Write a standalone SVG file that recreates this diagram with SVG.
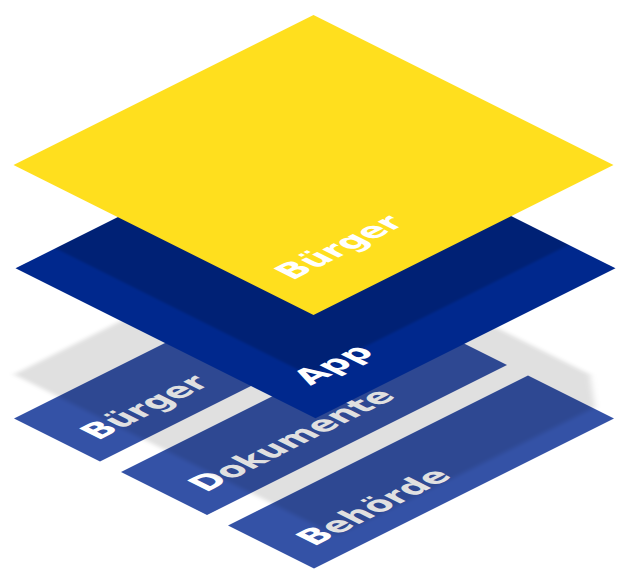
<svg xmlns="http://www.w3.org/2000/svg" width="631" height="585" viewBox="0 0 631 585">
<defs>
<style>
.lbl{font-family:"DejaVu Sans","Liberation Sans",sans-serif;font-weight:bold;font-size:29.5px;fill:#ffffff}
.strip{fill:#3452a6}
</style>
<filter id="soft" x="-20%" y="-20%" width="140%" height="140%"><feGaussianBlur stdDeviation="2.5"/></filter>
<filter id="soft2" x="-20%" y="-20%" width="140%" height="140%"><feGaussianBlur stdDeviation="1.5"/></filter>
<clipPath id="sqclip"><rect x="0" y="0" width="300" height="300"/></clipPath>
</defs>
<rect x="0" y="0" width="631" height="585" fill="#ffffff"/>

<g id="base-layer" transform="matrix(1,-0.5,1,0.5,14,418.5)">
  <g id="strip-buerger">
    <rect class="strip" x="0" y="0" width="300" height="86"/>
    <text class="lbl" x="20" y="64">Bürger</text>
  </g>
  <g id="strip-dokumente">
    <rect class="strip" x="0" y="107" width="300" height="86"/>
    <text class="lbl" x="22" y="170">Dokumente</text>
  </g>
  <g id="strip-behoerde">
    <rect class="strip" x="0" y="214" width="300" height="86"/>
    <text class="lbl" x="22" y="278">Behörde</text>
  </g>
  <polygon id="app-ground-shadow" points="44,-44 332,-44 332,244 302,279 44,279" fill="#000000" fill-opacity="0.12" filter="url(#soft)"/>
</g>

<g id="layer-app" transform="matrix(1,-0.5,1,0.5,15.5,268.3)">
  <rect x="0" y="0" width="300" height="300" fill="#00288d"/>
  <g clip-path="url(#sqclip)">
    <rect x="40" y="-20" width="290" height="273" fill="#000000" fill-opacity="0.17" filter="url(#soft2)"/>
  </g>
  <text class="lbl" x="30" y="265">App</text>
</g>

<g id="layer-buerger-top" transform="matrix(1,-0.5,1,0.5,13.5,165)">
  <rect x="0" y="0" width="300" height="300" fill="#ffdf1e"/>
  <text class="lbl" x="24" y="255">Bürger</text>
</g>

<g id="connectors"/>
</svg>
